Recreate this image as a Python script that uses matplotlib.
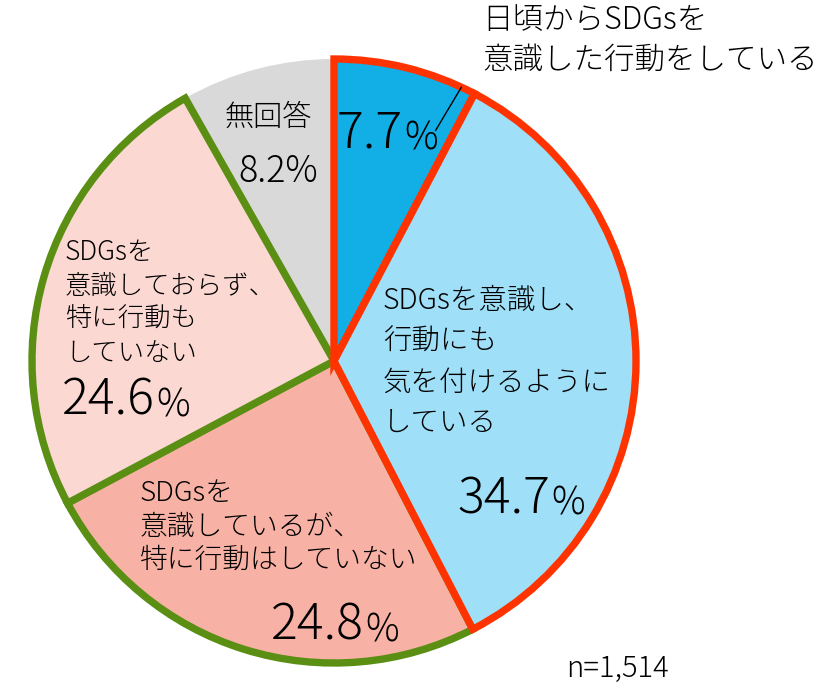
import numpy as np
import matplotlib
matplotlib.use("Agg")
import matplotlib.pyplot as plt

plt.rcParams['font.family'] = ['Noto Sans CJK JP', 'DejaVu Sans']
plt.rcParams['font.weight'] = 'light'

# data (clockwise from 12 o'clock)
labels = ["日頃からSDGsを\n意識した行動をしている",
          "SDGsを意識し、\n行動にも\n気を付けるように\nしている",
          "SDGsを\n意識しているが、\n特に行動はしていない",
          "SDGsを\n意識しておらず、\n特に行動も\nしていない",
          "無回答"]
values = [7.7, 34.7, 24.8, 24.6, 8.2]
colors = ["#12AEE6", "#9FDFF7", "#F8B2A5", "#FBD8D2", "#D9D9D9"]
edges = ["#FF3300", "#FF3300", "#5A8F14", "#5A8F14", None]
n_total = "n=1,514"

W, H = 837, 687
fig = plt.figure(figsize=(W / 100, H / 100), dpi=100)
ax = fig.add_axes([0, 0, 1, 1])
ax.set_aspect('equal')
ax.axis('off')

def Y(y):
    return H - y

cx, cy, r = 334, Y(361), 302
wedges, _ = ax.pie(values, colors=colors, startangle=90, counterclock=False,
                   center=(cx, cy), radius=r, wedgeprops=dict(linewidth=0))
ax.set_xlim(0, W)
ax.set_ylim(0, H)
for w, ec in zip(wedges, edges):
    if ec is None:
        w.set_zorder(1)
        continue
    w.set_edgecolor(ec)
    w.set_linewidth(5.3)
    w.set_joinstyle('miter')
    w.set_zorder(3 if ec == "#FF3300" else 2)

def lines(x, y0, text, size, step):
    for i, s in enumerate(text.split("\n")):
        ax.text(x, Y(y0 + i * step), s, fontsize=size, ha='left', va='center', zorder=5)

def pct(x, base, v, size, psize):
    t = ax.text(x, Y(base), f"{v}", fontsize=size, ha='left', va='baseline', zorder=5)
    ax.annotate("%", xy=(1, 0), xycoords=t, xytext=(1, 1), textcoords='offset points',
                fontsize=psize, ha='left', va='bottom', zorder=5)

# labels
lines(482, 20, labels[0], 22, 40)
lines(383, 301, labels[1], 20.5, 41)
lines(140, 493, labels[2], 20, 33.5)
lines(65, 252, labels[3], 19, 33.5)
ax.text(268, Y(118), labels[4], fontsize=21, ha='center', va='center', zorder=5)

pct(337, 148, values[0], 36, 27)
pct(457, 513, values[1], 36, 27)
pct(271, 640, values[2], 36, 27)
pct(62, 415, values[3], 36, 27)
ax.text(278, Y(172), f"{values[4]}%", fontsize=26, ha='center', va='center', zorder=5)

# leader line for the small slice
a0 = np.deg2rad(90 - 360 * values[0] / 100 * 0.9)
ax.plot([cx + 0.86 * r * np.cos(a0) - 8, cx + r * np.cos(a0)],
        [cy + 0.86 * r * np.sin(a0) - 5, cy + r * np.sin(a0)],
        color='black', lw=1, zorder=6)

ax.text(566, Y(677), n_total, fontsize=21, ha='left', va='baseline')

fig.savefig("out.png", dpi=100)
